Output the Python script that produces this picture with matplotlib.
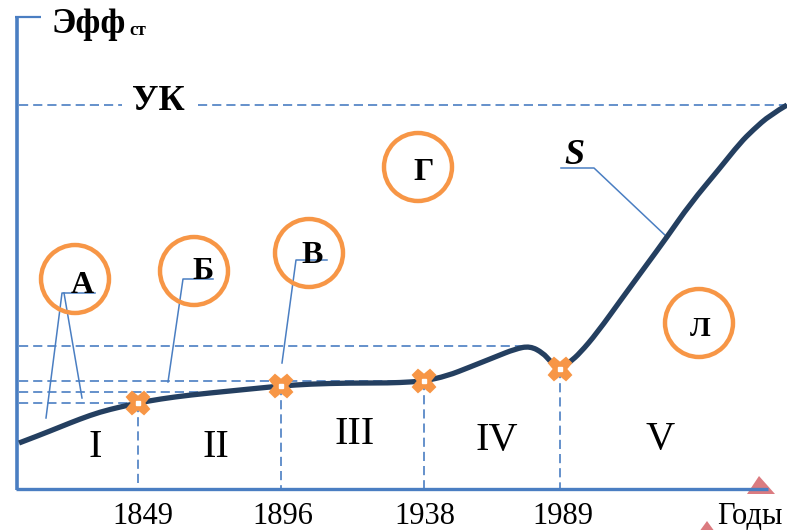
import matplotlib.pyplot as plt
from matplotlib.patches import Circle, Polygon, PathPatch
from matplotlib.path import Path

# Layout units are picture pixels (787 x 530), y grows downwards
plt.rcParams['font.family'] = ['Liberation Serif', 'DejaVu Serif']

axis_blue = '#4A7EC2'
curve_col = '#243F60'
orange = '#F79646'
pink = '#DB7B80'

# S-curve
curve_x = [19, 40, 60, 80, 100, 120, 138, 160, 190, 230, 260, 281, 310, 350, 390,
           410, 424, 447, 470, 495, 515, 530, 543, 550, 556, 560, 570, 580, 597,
           623, 645, 667, 690, 720, 740, 753, 770, 787]
curve_y = [443, 435, 427, 419, 412, 407, 403, 399, 395, 391, 388, 386, 384, 383, 383,
           382, 381, 376, 367, 357, 349, 346, 353, 361, 366, 369, 362, 353, 333,
           297, 267, 237, 204, 168, 143, 130, 115, 105]

# stage borders (points on the curve)
border_x = [138, 281, 424, 560]
border_y = [403, 386, 381, 369]
years = ['1849', '1896', '1938', '1989']
year_x = [143, 283, 425, 563]

# horizontal dashed guides: level, right end
guide_y = [346, 381, 392, 403]
guide_end = [530, 424, 230, 138]

# stages
stages = ['I', 'II', 'III', 'IV', 'V']
stage_x = [95, 216, 355, 497, 660]
stage_y = [457, 457, 444, 450, 449]

# circled letters
circ_x = [75, 194, 309, 418, 699]
circ_y = [279, 271, 253, 167, 323]
letters = ['А', 'Б', 'В', 'Г', 'Л']
letter_x = [82, 203, 312, 424, 700]
letter_y = [293, 279, 263, 180, 336]

# callout leaders
lead_A = [(95, 293), (62, 293), (46, 418)]
lead_A2 = [(64, 293), (82, 398)]
lead_B = [(213, 279), (183, 279), (168, 382)]
lead_V = [(327, 260), (296, 260), (282, 363)]
lead_S = [(561, 168), (594, 168), (667, 237)]

fig = plt.figure(figsize=(7.87, 5.30), dpi=100)
ax = fig.add_axes([0, 0, 1, 1])
ax.set_xlim(0, 787)
ax.set_ylim(530, 0)
ax.axis('off')

dash = (0, (5.5, 3))

# dashed guide lines
for gy, ge in zip(guide_y, guide_end):
    ax.plot([19, ge], [gy, gy], color=axis_blue, lw=1.2, ls=dash, zorder=2)
for bx, by in zip(border_x, border_y):
    ax.plot([bx, bx], [by, 489], color=axis_blue, lw=1.2, ls=dash, zorder=2)
# УК level
ax.plot([19, 122], [105, 105], color=axis_blue, lw=1.2, ls=dash, zorder=2)
ax.plot([198, 787], [105, 105], color=axis_blue, lw=1.2, ls=dash, zorder=2)

# leaders
for lead in [lead_A, lead_A2, lead_B, lead_V, lead_S]:
    xs, ys = zip(*lead)
    ax.plot(xs, ys, color=axis_blue, lw=1.1, zorder=3)

# arrow heads
ax.add_patch(Polygon([(747, 494), (775, 494), (759, 476)], closed=True,
                     color=pink, lw=0, zorder=3))
ax.add_patch(Polygon([(699, 532), (715, 532), (707, 521)], closed=True,
                     color=pink, lw=0, zorder=3))

# axes
ax.plot([17, 17], [17, 490], color=axis_blue, lw=2.6, solid_capstyle='butt', zorder=4)
ax.plot([15, 41], [17, 17], color=axis_blue, lw=1.6, solid_capstyle='butt', zorder=4)
ax.plot([16, 768], [489, 489], color=axis_blue, lw=2.4, solid_capstyle='butt', zorder=4)

# curve: read points used as quadratic Bezier controls for a smooth stroke
pts = list(zip(curve_x, curve_y))
verts = [pts[0]]
codes = [Path.MOVETO]
for i in range(1, len(pts) - 1):
    mid = ((pts[i][0] + pts[i + 1][0]) / 2, (pts[i][1] + pts[i + 1][1]) / 2)
    if i == len(pts) - 2:
        mid = pts[-1]
    verts += [pts[i], mid]
    codes += [Path.CURVE3, Path.CURVE3]
ax.add_patch(PathPatch(Path(verts, codes), fill=False, ec=curve_col, lw=3.8,
                       capstyle='butt', zorder=5))

ax.plot(border_x, border_y, ls='none', marker='X', ms=16, color=orange,
        mec=orange, mew=1.5, zorder=6)
ax.plot(border_x, border_y, ls='none', marker='s', ms=2.2, color='white',
        mec='white', zorder=7)

# circles and letters
for cx, cy in zip(circ_x, circ_y):
    ax.add_patch(Circle((cx, cy), 34, fill=False, ec=orange, lw=3.2, zorder=3))
for t, lx, ly in zip(letters, letter_x, letter_y):
    fs = 20 if t == 'Л' else 23
    ax.text(lx, ly, t, fontsize=fs, fontweight='bold', ha='center', va='baseline', zorder=8)

# texts
ax.text(51, 33, 'Эфф', fontsize=26, fontweight='bold', ha='left', va='baseline')
ax.text(129, 35, 'ст', fontsize=13, fontweight='bold', ha='left', va='baseline')
ax.text(158, 110, 'УК', fontsize=26, fontweight='bold', ha='center', va='baseline')
ax.text(574, 164, 'S', fontsize=26, fontweight='bold', fontstyle='italic',
        ha='center', va='baseline')

for s, sx, sy in zip(stages, stage_x, stage_y):
    ax.text(sx, sy, s, fontsize=29, ha='center', va='baseline')
for y, yx in zip(years, year_x):
    ax.text(yx, 524, y, fontsize=22, ha='center', va='baseline')
ax.text(717, 524, 'Годы', fontsize=22, ha='left', va='baseline')

fig.savefig('out.png', dpi=100)
